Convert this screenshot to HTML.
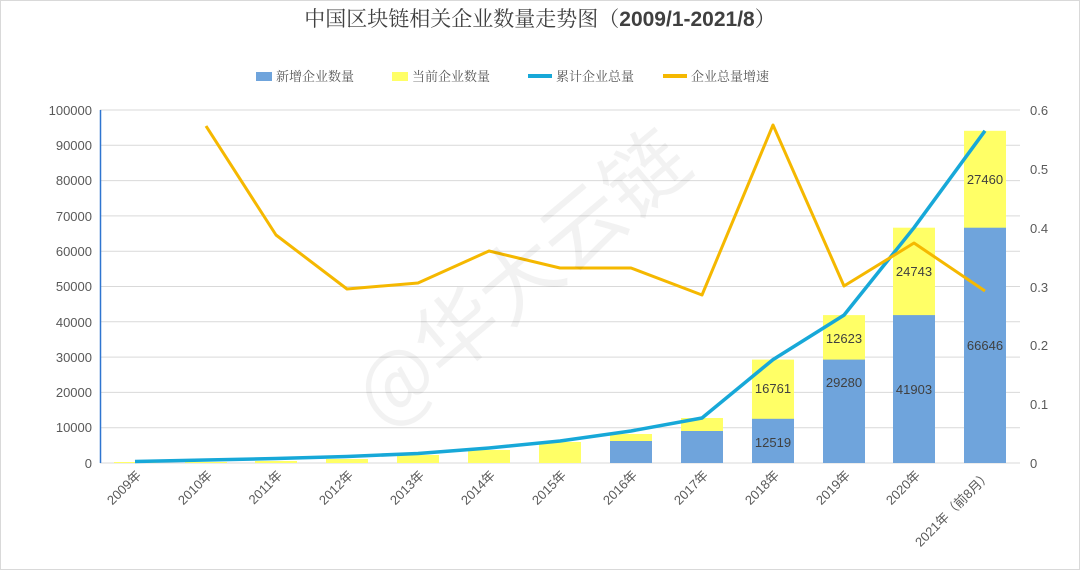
<!DOCTYPE html>
<html><head><meta charset="utf-8"><style>
body{margin:0;background:#fff;}
svg{display:block;font-family:"Liberation Sans","Noto Sans CJK SC",sans-serif;}
</style></head><body>
<svg width="1080" height="570" viewBox="0 0 1080 570">
<rect x="0.5" y="0.5" width="1079" height="569" fill="#fff" stroke="#d9d9d9"/>
<text x="540" y="26" text-anchor="middle" font-size="21" fill="#404040" font-family="'Noto Serif CJK SC','Noto Sans CJK SC',serif">中国区块链相关企业数量走势图（<tspan font-family="'Liberation Sans',sans-serif" font-weight="bold">2009/1-2021/8</tspan>）</text>
<g font-size="13" fill="#595959" font-family="'Noto Serif CJK SC',serif">
<rect x="256" y="72" width="16" height="9" fill="#6fa4dc"/><text x="276" y="81">新增企业数量</text>
<rect x="392" y="72" width="16" height="9" fill="#ffff66"/><text x="412" y="81">当前企业数量</text>
<rect x="528" y="74" width="24" height="4" fill="#17a8d8"/><text x="556" y="81">累计企业总量</text>
<rect x="663" y="74" width="24" height="4" fill="#f5b800"/><text x="691" y="81">企业总量增速</text>
</g>
<g stroke="#d9d9d9" stroke-width="1">
<line x1="100" y1="110" x2="1020" y2="110"/><line x1="100" y1="145.3" x2="1020" y2="145.3"/><line x1="100" y1="180.6" x2="1020" y2="180.6"/><line x1="100" y1="215.9" x2="1020" y2="215.9"/><line x1="100" y1="251.2" x2="1020" y2="251.2"/><line x1="100" y1="286.5" x2="1020" y2="286.5"/><line x1="100" y1="321.8" x2="1020" y2="321.8"/><line x1="100" y1="357.1" x2="1020" y2="357.1"/><line x1="100" y1="392.4" x2="1020" y2="392.4"/><line x1="100" y1="427.7" x2="1020" y2="427.7"/><line x1="100" y1="463" x2="1020" y2="463"/>
</g>
<line x1="100.5" y1="110" x2="100.5" y2="463" stroke="#2e75d0" stroke-width="1.5"/>
<g font-size="13" fill="#595959" text-anchor="end">
<text x="92" y="115">100000</text><text x="92" y="150">90000</text><text x="92" y="185">80000</text><text x="92" y="221">70000</text><text x="92" y="256">60000</text><text x="92" y="291">50000</text><text x="92" y="327">40000</text><text x="92" y="362">30000</text><text x="92" y="397">20000</text><text x="92" y="432">10000</text><text x="92" y="468">0</text>
</g>
<g font-size="13" fill="#595959">
<text x="1030" y="115">0.6</text><text x="1030" y="174">0.5</text><text x="1030" y="233">0.4</text><text x="1030" y="292">0.3</text><text x="1030" y="350">0.2</text><text x="1030" y="409">0.1</text><text x="1030" y="468">0</text>
</g>
<g fill="#ffff66">
<rect x="114" y="462" width="42" height="1"/>
<rect x="185" y="462" width="42" height="1"/>
<rect x="255" y="461" width="42" height="2"/>
<rect x="326" y="459" width="42" height="4"/>
<rect x="397" y="455" width="42" height="8"/>
<rect x="468" y="450" width="42" height="13"/>
<rect x="539" y="442" width="42" height="21"/>
<rect x="610" y="434" width="42" height="29"/>
<rect x="681" y="418" width="42" height="45"/>
<rect x="752" y="359.6" width="42" height="103.4"/>
<rect x="823" y="315.1" width="42" height="147.9"/>
<rect x="893" y="227.7" width="42" height="235.3"/>
<rect x="964" y="130.8" width="42" height="332.2"/>
</g>
<g fill="#6fa4dc">
<rect x="610" y="441" width="42" height="22"/>
<rect x="681" y="431" width="42" height="32"/>
<rect x="752" y="418.8" width="42" height="44.2"/>
<rect x="823" y="359.6" width="42" height="103.4"/>
<rect x="893" y="315.1" width="42" height="147.9"/>
<rect x="964" y="227.7" width="42" height="235.3"/>
</g>
<g font-size="13" fill="#404040" text-anchor="middle">
<text x="773" y="447">12519</text><text x="773" y="393">16761</text>
<text x="844" y="387">29280</text><text x="844" y="343">12623</text>
<text x="914" y="394">41903</text><text x="914" y="276">24743</text>
<text x="985" y="350">66646</text><text x="985" y="184">27460</text>
</g>
<polyline fill="none" stroke="#17a8d8" stroke-width="3.5" stroke-linejoin="round" points="135,461.5 206,460 276,458.5 347,456.5 418,453.5 489,448 560,441 631,431 702,418 773,359.6 844,315.1 914,227.7 985,130.8"/>
<polyline fill="none" stroke="#f5b800" stroke-width="3" stroke-linejoin="round" points="206,126 276,235 347,289 418,283 489,251 560,268 631,268 702,295 773,125 844,286 914,243 985,291"/>
<g font-size="13" fill="#595959" text-anchor="end">
<text transform="translate(142,476) rotate(-45)">2009年</text>
<text transform="translate(213,476) rotate(-45)">2010年</text>
<text transform="translate(283,476) rotate(-45)">2011年</text>
<text transform="translate(354,476) rotate(-45)">2012年</text>
<text transform="translate(425,476) rotate(-45)">2013年</text>
<text transform="translate(496,476) rotate(-45)">2014年</text>
<text transform="translate(567,476) rotate(-45)">2015年</text>
<text transform="translate(638,476) rotate(-45)">2016年</text>
<text transform="translate(709,476) rotate(-45)">2017年</text>
<text transform="translate(780,476) rotate(-45)">2018年</text>
<text transform="translate(851,476) rotate(-45)">2019年</text>
<text transform="translate(921,476) rotate(-45)">2020年</text>
<text transform="translate(992,476) rotate(-45)">2021年（前8月）</text>
</g>
<text transform="translate(540,300) rotate(-40)" text-anchor="middle" font-size="82" fill="#000" fill-opacity="0.05" font-family="'Noto Sans CJK SC',sans-serif">@华大云链</text>
</svg>
</body></html>
